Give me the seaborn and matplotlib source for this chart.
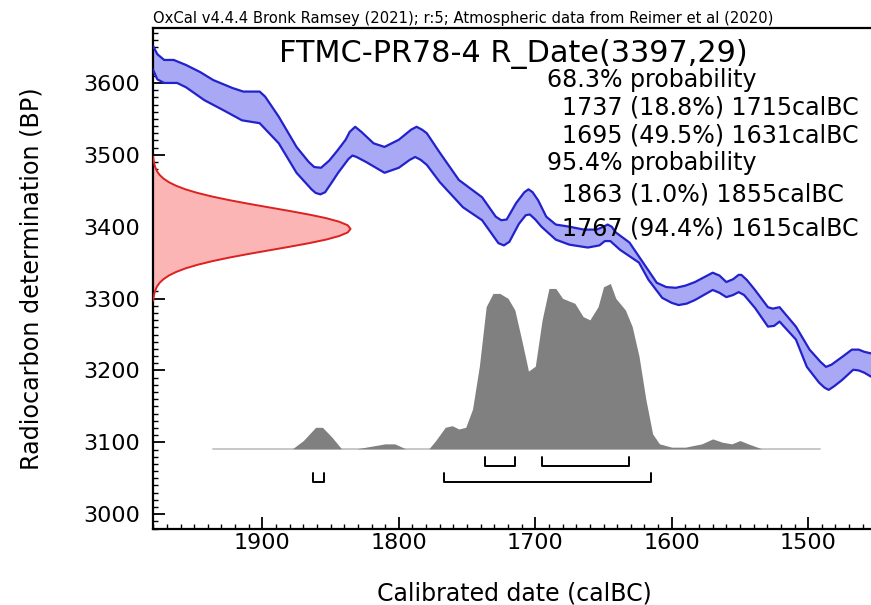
import numpy as np
import matplotlib
matplotlib.use('Agg')
import matplotlib.pyplot as plt
from matplotlib.ticker import MultipleLocator
import seaborn as sns

# Calibration curve band (IntCal20): upper edge
curve_hi_year = [1980, 1977, 1972, 1965, 1956, 1945.5, 1936, 1922, 1914, 1902, 1898, 1888,
                 1875, 1866, 1862, 1857, 1851, 1845, 1839, 1836, 1832, 1827.5, 1818.5, 1810.5,
                 1800, 1791, 1787, 1783, 1779.5, 1770, 1756, 1739, 1729, 1725, 1721, 1714,
                 1708, 1705, 1702, 1698, 1692, 1685, 1675, 1664.5, 1655, 1650, 1647, 1644,
                 1641, 1631, 1621, 1611, 1604, 1597, 1590, 1583, 1570, 1565, 1560, 1555, 1551,
                 1549, 1545, 1539, 1529.5, 1526, 1521, 1509, 1499, 1491, 1487, 1483, 1475,
                 1468, 1463, 1459, 1450]
curve_hi_bp = [3651, 3640, 3632, 3632, 3625, 3615, 3604, 3593, 3588, 3588, 3581, 3553,
               3511, 3490, 3483, 3482, 3492, 3506, 3521, 3532, 3539, 3532, 3516, 3511,
               3521, 3535, 3539, 3535, 3530, 3503, 3465, 3441, 3414, 3409, 3410, 3433,
               3448, 3452, 3448, 3437, 3414, 3403, 3400, 3396, 3396, 3400, 3403, 3400,
               3392, 3378, 3350, 3322, 3316, 3315, 3318, 3323, 3336, 3332, 3323, 3327, 3333,
               3333, 3326, 3312, 3288, 3286, 3288, 3261, 3229, 3212, 3205, 3208, 3219,
               3229, 3229, 3226, 3222]

# lower edge
curve_lo_year = [1980, 1977, 1972, 1962.5, 1956, 1942.5, 1928.5, 1915, 1902, 1888, 1875,
                 1864, 1861, 1857.5, 1854, 1849, 1844.5, 1837, 1834, 1831, 1824, 1810.5,
                 1800, 1792, 1788, 1784, 1779.5, 1770, 1753, 1739, 1730, 1727, 1723, 1719,
                 1712, 1707, 1704, 1700, 1695.5, 1685, 1675, 1661.5, 1653, 1649, 1645, 1638,
                 1624, 1617, 1607, 1600, 1595, 1589, 1583, 1570, 1565, 1560, 1555, 1551,
                 1547, 1539, 1529.5, 1525, 1521, 1509, 1501, 1492, 1488, 1485, 1481, 1475,
                 1467, 1463, 1459, 1450]
curve_lo_bp = [3618, 3605, 3600, 3600, 3594, 3576, 3562, 3548, 3544, 3516, 3475,
               3452, 3447, 3445, 3448, 3462, 3475, 3494, 3499, 3497, 3490, 3475,
               3482, 3493, 3497, 3493, 3486, 3462, 3427, 3409, 3385, 3377, 3374, 3379,
               3404, 3416, 3417, 3410, 3400, 3382, 3375, 3371, 3374, 3380, 3380, 3368,
               3350, 3326, 3301, 3294, 3291, 3293, 3298, 3312, 3308, 3302, 3305, 3309,
               3305, 3287, 3261, 3262, 3268, 3243, 3205, 3183, 3176, 3173, 3178, 3187,
               3201, 3200, 3197, 3187]

# Measured date R_Date(3397,29): width of the red curve in years at each BP level
date_bp = [3297, 3302, 3307, 3312, 3317, 3322, 3327, 3332, 3337, 3342, 3347, 3352, 3357, 3362,
           3367, 3372, 3377, 3382, 3387, 3392, 3397, 3402, 3407, 3412, 3417, 3422, 3427, 3432,
           3437, 3442, 3447, 3452, 3457, 3462, 3467, 3472, 3477, 3482, 3487, 3492, 3497]
date_width = [0.4, 0.7, 1.2, 2.0, 3.2, 5.1, 7.9, 11.8, 17.1, 24.0, 32.8, 43.5, 56.0, 70.0,
              84.9, 100.0, 114.3, 126.9, 136.6, 142.9, 145.0, 142.9, 136.6, 126.9, 114.3, 100.0,
              84.9, 70.0, 56.0, 43.5, 32.8, 24.0, 17.1, 11.8, 7.9, 5.1, 3.2, 2.0, 1.2, 0.7, 0.4]

# Calibrated (posterior) distribution, relative probability
post_year = [1936, 1878, 1870, 1861, 1856, 1849, 1842, 1831, 1810, 1803, 1795, 1778, 1773,
             1766, 1761, 1756, 1751, 1746, 1741, 1736, 1731, 1726, 1720, 1715, 1710, 1705,
             1700, 1695, 1690, 1685, 1680, 1671, 1665, 1660, 1654, 1650, 1645, 1641, 1634,
             1629, 1624, 1619, 1614, 1609, 1600, 1590, 1578, 1570, 1563, 1556, 1550, 1544,
             1534, 1491]
post_prob = [0, 0, 0.05, 0.13, 0.13, 0.07, 0, 0, 0.03, 0.03, 0, 0, 0.05,
             0.13, 0.14, 0.12, 0.13, 0.24, 0.50, 0.86, 0.94, 0.94, 0.91, 0.84, 0.66, 0.47,
             0.50, 0.78, 0.97, 0.97, 0.91, 0.88, 0.80, 0.78, 0.86, 0.98, 1.0, 0.91, 0.84,
             0.74, 0.56, 0.30, 0.09, 0.03, 0.01, 0.01, 0.03, 0.06, 0.04, 0.03, 0.05, 0.03,
             0, 0]

# Probability ranges
range68 = [(1737, 1715), (1695, 1631)]
range95 = [(1863, 1855), (1767, 1615)]
prob_lines = ['68.3% probability',
              '  1737 (18.8%) 1715calBC',
              '  1695 (49.5%) 1631calBC',
              '95.4% probability',
              '  1863 (1.0%) 1855calBC',
              '  1767 (94.4%) 1615calBC']

X_LEFT, X_RIGHT = 1980.4, 1450.6
POST_BASE, POST_HEIGHT = 3091, 230

sns.set_style('ticks')
plt.rcParams['font.family'] = ['DejaVu Sans']
for key in ['text.color', 'axes.labelcolor', 'xtick.color', 'ytick.color', 'axes.edgecolor']:
    plt.rcParams[key] = 'black'

fig = plt.figure(figsize=(8.71, 6.05), dpi=100)
ax = fig.add_axes([0.1753, 0.1251, 0.83, 0.8281])

# blue calibration band
band_x = np.concatenate([curve_hi_year, curve_lo_year[::-1]])
band_y = np.concatenate([curve_hi_bp, curve_lo_bp[::-1]])
ax.fill(band_x, band_y, color='#a8a8f5', lw=0, zorder=2)
for xs, ys in [(curve_hi_year, curve_hi_bp), (curve_lo_year, curve_lo_bp)]:
    sns.lineplot(x=xs, y=ys, sort=False, estimator=None, color='#2222cc', lw=1.6, ax=ax,
                 zorder=3, solid_joinstyle='round')

# red measured date
red_x = X_LEFT - np.array(date_width)
ax.fill_betweenx(date_bp, X_LEFT, red_x, color='#fbb5b5', lw=0, zorder=2)
sns.lineplot(x=red_x, y=date_bp, sort=False, estimator=None, color='#dd2020', lw=1.4,
             ax=ax, zorder=3)

# grey posterior
post_top = POST_BASE + np.array(post_prob) * POST_HEIGHT
ax.fill_between(post_year, POST_BASE, post_top, color='#808080', lw=0, zorder=2)
ax.plot([post_year[0], post_year[-1]], [POST_BASE, POST_BASE], color='#c8c8c8', lw=1.4, zorder=1)

# range brackets
for a, b in range68:
    ax.plot([a, a, b, b], [3080, 3067, 3067, 3080], color='black', lw=1.4, zorder=3)
for a, b in range95:
    ax.plot([a, a, b, b], [3057, 3045, 3045, 3057], color='black', lw=1.4, zorder=3)

ax.set_xlim(X_LEFT, X_RIGHT)
ax.set_ylim(2979, 3676)
ax.xaxis.set_major_locator(MultipleLocator(100))
ax.xaxis.set_minor_locator(MultipleLocator(10))
ax.yaxis.set_major_locator(MultipleLocator(100))
ax.yaxis.set_minor_locator(MultipleLocator(10))
ax.tick_params(which='major', direction='in', length=8.5, width=1.3, labelsize=16)
ax.tick_params(which='minor', direction='in', length=3.5, width=1.0)
ax.tick_params(axis='x', which='major', pad=3)
ax.tick_params(axis='y', which='major', pad=9)
ax.spines['right'].set_visible(False)
for s in ['left', 'bottom', 'top']:
    ax.spines[s].set_linewidth(1.6)

ax.set_xlabel('Calibrated date (calBC)', fontsize=17, labelpad=20)
ax.set_ylabel('Radiocarbon determination (BP)', fontsize=17.2, labelpad=29)

# texts
ax.text(0.0, 1.004, 'OxCal v4.4.4 Bronk Ramsey (2021); r:5; Atmospheric data from Reimer et al (2020)',
        transform=ax.transAxes, fontsize=10.6, va='bottom', ha='left')
ax.text(0.1744, 0.9334, 'FTMC-PR78-4 R_Date(3397,29)', transform=ax.transAxes, fontsize=21.8,
        va='baseline', ha='left')
prob_y = [0.8974, 0.8425, 0.7870, 0.7311, 0.6673, 0.6014]
for line, yy in zip(prob_lines, prob_y):
    ax.text(0.5448, yy, line, transform=ax.transAxes, fontsize=17.1, va='center', ha='left')

fig.savefig('out.png', dpi=100)
